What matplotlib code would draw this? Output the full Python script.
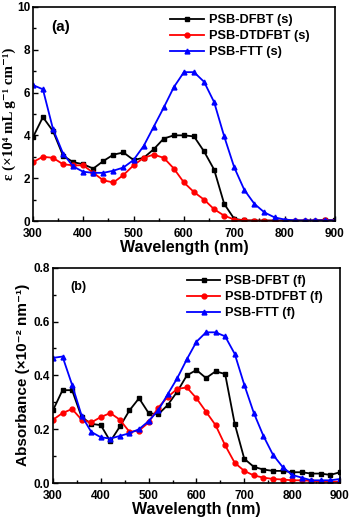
import matplotlib.pyplot as plt
import numpy as np
from matplotlib.ticker import MultipleLocator, FormatStrFormatter

plt.rcParams['font.family'] = ['Liberation Sans', 'DejaVu Sans']
plt.rcParams['font.weight'] = 'bold'

wl = np.arange(300, 901, 20)

# (a) solution, epsilon (x10^4 mL g^-1 cm^-1)
dfbt_s = [3.9, 4.85, 4.2, 3.05, 2.75, 2.65, 2.45, 2.8, 3.1, 3.2, 2.85, 2.95, 3.35, 3.85, 4.0, 4.0,
          3.95, 3.25, 2.4, 0.8, 0.1, 0.03, 0.02, 0.02, 0.02, 0.02, 0.02, 0.02, 0.02, 0.05, 0.03]
dtdfbt_s = [2.75, 3.0, 2.95, 2.65, 2.6, 2.6, 2.25, 1.9, 1.8, 2.15, 2.6, 2.95, 3.1, 2.95, 2.45, 1.8,
            1.35, 1.0, 0.55, 0.25, 0.07, 0.03, 0.02, 0.02, 0.02, 0.02, 0.02, 0.02, 0.02, 0.03, 0.02]
ftt_s = [6.35, 6.15, 4.3, 3.15, 2.55, 2.3, 2.25, 2.25, 2.35, 2.5, 2.85, 3.5, 4.4, 5.3, 6.25, 6.95,
         6.95, 6.5, 5.55, 3.95, 2.5, 1.45, 0.8, 0.4, 0.17, 0.07, 0.03, 0.03, 0.03, 0.03, 0.03]

# (b) film, absorbance (x10^-2 nm^-1)
dfbt_f = [0.27, 0.345, 0.345, 0.245, 0.22, 0.215, 0.155, 0.21, 0.27, 0.315, 0.26, 0.255, 0.29, 0.34,
          0.40, 0.42, 0.39, 0.415, 0.405, 0.22, 0.09, 0.06, 0.05, 0.045, 0.045, 0.04, 0.04, 0.035,
          0.035, 0.03, 0.04]
dtdfbt_f = [0.235, 0.26, 0.275, 0.235, 0.225, 0.245, 0.26, 0.235, 0.19, 0.195, 0.225, 0.28, 0.32,
            0.35, 0.355, 0.315, 0.265, 0.215, 0.14, 0.075, 0.045, 0.028, 0.02, 0.015, 0.013, 0.01,
            0.01, 0.008, 0.005, 0.005, 0.005]
ftt_f = [0.465, 0.47, 0.365, 0.25, 0.19, 0.17, 0.165, 0.175, 0.185, 0.2, 0.23, 0.27, 0.33, 0.39,
         0.46, 0.525, 0.56, 0.56, 0.545, 0.48, 0.365, 0.26, 0.175, 0.105, 0.06, 0.03, 0.02, 0.01,
         0.01, 0.01, 0.015]

fig = plt.figure(figsize=(3.53, 5.25), dpi=100)
ax1 = fig.add_axes([0.093, 0.579, 0.856, 0.408])
ax2 = fig.add_axes([0.150, 0.080, 0.813, 0.410])

def draw(ax, ys, labels, anchor):
    styles = [('black', 's'), ('red', 'o'), ('blue', '^')]
    for y, lab, (c, m) in zip(ys, labels, styles):
        ax.plot(wl, y, color=c, marker=m, markersize=3.5, linewidth=1.3, label=lab)
    ax.set_xlim(300, 900)
    ax.xaxis.set_major_locator(MultipleLocator(100))
    ax.xaxis.set_minor_locator(MultipleLocator(50))
    ax.tick_params(which='both', direction='in', top=False, right=False, labelsize=8.5, pad=2)
    ax.tick_params(axis='x', pad=5)
    ax.tick_params(which='major', length=3.5, width=1)
    ax.tick_params(which='minor', length=2, width=1)
    for s in ax.spines.values():
        s.set_linewidth(1.2)
    ax.set_xlabel('Wavelength (nm)', fontsize=11.5, fontweight='bold', labelpad=0)
    ax.legend(loc='upper left', bbox_to_anchor=anchor, frameon=False, fontsize=9.2,
              handlelength=2.6, handletextpad=0.4, labelspacing=0.3, borderaxespad=0.2)

draw(ax1, [dfbt_s, dtdfbt_s, ftt_s], ['PSB-DFBT (s)', 'PSB-DTDFBT (s)', 'PSB-FTT (s)'],
     (0.43, 1.0))
ax1.set_ylim(0, 10)
ax1.yaxis.set_major_locator(MultipleLocator(2))
ax1.yaxis.set_minor_locator(MultipleLocator(1))
ax1.set_ylabel('ε (×10⁴ mL g⁻¹ cm⁻¹)', fontsize=10.8, fontweight='bold',
               family=['Liberation Serif', 'DejaVu Serif'], labelpad=0.5)
ax1.text(0.06, 0.94, '(a)', transform=ax1.transAxes, fontsize=11, va='top')

draw(ax2, [dfbt_f, dtdfbt_f, ftt_f], ['PSB-DFBT (f)', 'PSB-DTDFBT (f)', 'PSB-FTT (f)'],
     (0.44, 1.0))
ax2.set_ylim(0, 0.8)
ax2.yaxis.set_major_locator(MultipleLocator(0.2))
ax2.yaxis.set_minor_locator(MultipleLocator(0.1))
ax2.yaxis.set_major_formatter(FormatStrFormatter('%.1f'))
ax2.set_ylabel('Absorbance (×10⁻² nm⁻¹)', fontsize=11, fontweight='bold', labelpad=3)
ax2.text(0.06, 0.94, '(b)', transform=ax2.transAxes, fontsize=9, va='top')

fig.savefig('out.png', dpi=100)
